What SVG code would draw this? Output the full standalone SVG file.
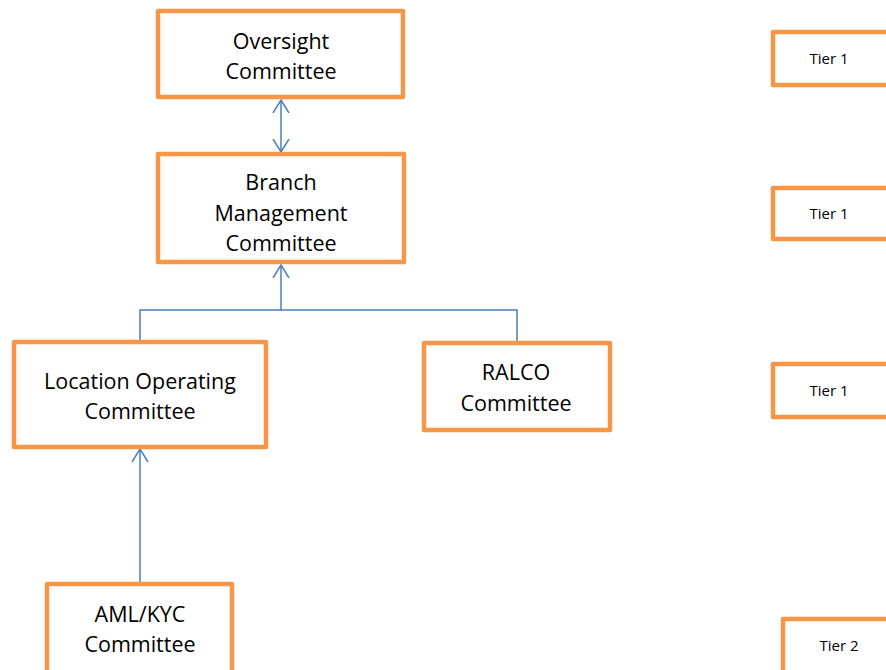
<svg xmlns="http://www.w3.org/2000/svg" width="886" height="670" viewBox="0 0 886 670">
<style>
.box{fill:#fff;stroke:#F79646;stroke-width:4.5;stroke-linejoin:round}
.t{font-family:"Open Sans","Noto Sans",sans-serif;font-size:21.5px;fill:#000;text-anchor:middle}
.s{font-family:"Open Sans","Noto Sans",sans-serif;font-size:15px;fill:#000;text-anchor:middle}
.c{fill:none;stroke:#4A7EBB;stroke-width:1.5}
</style>
<defs>
<marker id="ah" viewBox="0 0 14 18" refX="13" refY="9" markerWidth="14" markerHeight="18" markerUnits="userSpaceOnUse" orient="auto-start-reverse">
<path d="M0,1 L13,9 L0,17" fill="none" stroke="#4A7EBB" stroke-width="1.5"/>
</marker>
</defs>
<g id="connectors">
<line class="c" x1="281" y1="100" x2="281" y2="152" marker-start="url(#ah)" marker-end="url(#ah)"/>
<line class="c" x1="281" y1="310" x2="281" y2="265" marker-end="url(#ah)"/>
<polyline class="c" points="140,342 140,310 517,310 517,343"/>
<line class="c" x1="140" y1="584" x2="140" y2="449" marker-end="url(#ah)"/>
</g>
<g id="oversight">
<rect class="box" x="158" y="11" width="245" height="86"/>
<text class="t" x="281" y="49">Oversight</text>
<text class="t" x="281" y="79">Committee</text>
</g>
<g id="branch">
<rect class="box" x="158" y="154" width="246" height="108"/>
<text class="t" x="281" y="190">Branch</text>
<text class="t" x="281" y="221">Management</text>
<text class="t" x="281" y="251">Committee</text>
</g>
<g id="location">
<rect class="box" x="14" y="342" width="252" height="105"/>
<text class="t" x="140" y="389">Location Operating</text>
<text class="t" x="140" y="419">Committee</text>
</g>
<g id="ralco">
<rect class="box" x="424" y="343" width="186" height="87"/>
<text class="t" x="516" y="380">RALCO</text>
<text class="t" x="516" y="411">Committee</text>
</g>
<g id="amlkyc">
<rect class="box" x="47" y="584" width="185" height="100"/>
<text class="t" x="140" y="622">AML/KYC</text>
<text class="t" x="140" y="652">Committee</text>
</g>
<g id="tier1a">
<rect class="box" x="773" y="32" width="125" height="53"/>
<text class="s" x="829" y="64">Tier 1</text>
</g>
<g id="tier1b">
<rect class="box" x="773" y="188" width="125" height="51"/>
<text class="s" x="829" y="219">Tier 1</text>
</g>
<g id="tier1c">
<rect class="box" x="773" y="364" width="125" height="53"/>
<text class="s" x="829" y="396">Tier 1</text>
</g>
<g id="tier2">
<rect class="box" x="783" y="619" width="115" height="60"/>
<text class="s" x="839" y="651">Tier 2</text>
</g>
</svg>
